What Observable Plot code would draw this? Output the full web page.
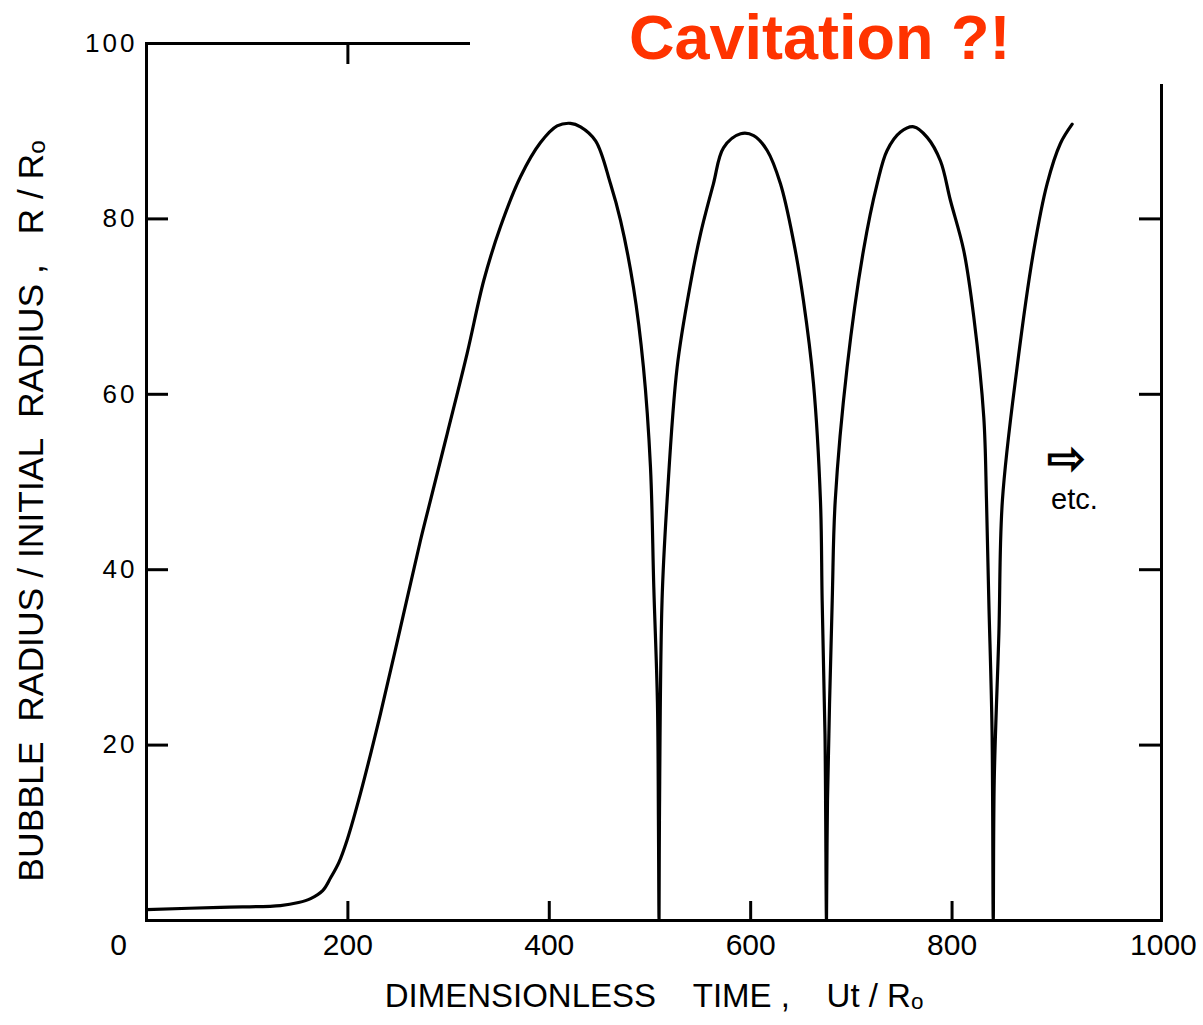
<!DOCTYPE html>
<html>
<head>
<meta charset="utf-8">
<script src="https://cdn.jsdelivr.net/npm/d3@7"></script>
<script src="https://cdn.jsdelivr.net/npm/@observablehq/plot@0.6"></script>
<style>
  html, body { margin: 0; padding: 0; background: #fff; }
  #wrap { position: relative; width: 1203px; height: 1025px; overflow: hidden; }
  #titlebox { position: absolute; left: 470px; top: 0; width: 733px; height: 84px; background: #fff; }
  #title { position: absolute; left: 159px; top: 6px; margin: 0; font-family: "Liberation Sans", Arial, sans-serif;
           font-weight: bold; font-size: 63px; line-height: 63px; color: #ff3300; white-space: nowrap; }
  g[aria-label="y-axis tick label"] text { letter-spacing: 3px; }
</style>
</head>
<body>
<div id="wrap">
  <div id="chart"></div>
  <div id="titlebox"><div id="title">Cavitation ?!</div></div>
</div>
<script>
// Dimensionless time Ut/Ro (x) and bubble radius R/Ro (y)
const time = [
  0, 73.5, 133, 151, 163, 175, 183, 191, 199, 212.5, 232.4, 252.2, 272, 282, 298.6, 318.5, 335, 351.5, 371.4, 391.3,
  407.8, 421, 431, 446, 460.8, 470.8, 483.6, 493.5, 500.5, 503.8, 507.4, 508.4, 509,
  509.4, 512, 517, 527, 540.2, 550.2, 563, 573, 590, 603, 616.4, 629.6, 642.5, 652.4, 662.4, 669.3, 671, 673.8, 675.3,
  676.3, 681, 684, 695.8, 712, 725.6, 735.5, 748.8, 762, 775.3, 788.5, 798.4, 811.6, 821.6, 831.5, 834.2, 836.5, 839.7, 840.9,
  841.9, 846.5, 850, 864.6, 881.1, 894.4, 907.6, 919.3
];
const radius = [
  1.25, 1.5, 1.7, 2.05, 2.5, 3.4, 4.9, 6.6, 9.1, 14.5, 23.6, 33.4, 43.3, 47.9, 55.5, 64.7, 73.0, 79.1, 84.8, 88.7,
  90.6, 90.9, 90.5, 88.9, 84.0, 79.8, 72.2, 63.1, 51.7, 38, 24.9, 11.4, 0,
  11.4, 36.5, 47.9, 63.1, 72.6, 78.3, 84.0, 88.1, 89.7, 89.5, 87.8, 84.0, 77.5, 70.7, 61.2, 47.9, 36.5, 21.3, 0,
  13.7, 36.5, 47.9, 63.1, 76.4, 84.0, 87.8, 89.9, 90.5, 89.3, 86.6, 82.1, 76.4, 68.8, 57.4, 47.9, 36.5, 21.7, 0,
  16, 32.7, 47.9, 63.1, 76.4, 84.0, 88.6, 90.8
];

const xTicks = [200, 400, 600, 800];
const xTickTop = [200];
const yTicks = [20, 40, 60, 80];
const yLabels = [20, 40, 60, 80, 100];

const xTitle = "DIMENSIONLESS\u00a0\u00a0\u00a0\u00a0TIME\u00a0,\u00a0\u00a0\u00a0\u00a0Ut\u00a0/\u00a0R\u2092";
const yTitle = "BUBBLE\u00a0\u00a0RADIUS\u00a0/\u00a0INITIAL\u00a0\u00a0RADIUS\u00a0,\u00a0\u00a0\u00a0R\u00a0/\u00a0R\u2092";

const noteX = [913.6, 921.5];
const noteY = [52.6, 48.0];
const noteText = ["\u21e8", "etc."];
const noteSize = [46, 29];
const noteWeight = ["bold", "normal"];

const points = time.map((t, i) => ({t, r: radius[i]}));
const notes = noteText.map((s, i) => ({x: noteX[i], y: noteY[i], s, size: noteSize[i], w: noteWeight[i]}));

const plot = Plot.plot({
  width: 1203,
  height: 1025,
  marginLeft: 146,
  marginRight: 42,
  marginTop: 43,
  marginBottom: 105,
  style: {fontFamily: "'Liberation Sans', Arial, sans-serif", background: "#fff", color: "#000"},
  x: {domain: [0, 1008]},
  y: {domain: [0, 100]},
  marks: [
    Plot.frame({stroke: "#000", strokeWidth: 3}),
    // inner ticks
    Plot.axisY({anchor: "left", ticks: yTicks, tickSize: -22, text: null, label: null, strokeWidth: 3}),
    Plot.axisY({anchor: "right", ticks: yTicks, tickSize: -23, text: null, label: null, strokeWidth: 3}),
    Plot.axisX({anchor: "bottom", ticks: xTicks, tickSize: -19, text: null, label: null, strokeWidth: 3}),
    Plot.axisX({anchor: "top", ticks: xTickTop, tickSize: -20, text: null, label: null, strokeWidth: 3}),
    // tick labels
    Plot.axisY({anchor: "left", ticks: yLabels, tickSize: 0, tickPadding: 9, fontSize: 26, label: null, tickFormat: "d"}),
    Plot.axisX({anchor: "bottom", ticks: xTicks, tickSize: 0, tickPadding: 13, fontSize: 30, label: null, tickFormat: "d"}),
    Plot.axisX({anchor: "bottom", ticks: [0], tickSize: 0, tickPadding: 13, fontSize: 30, label: null, tickFormat: "d", dx: -28}),
    Plot.axisX({anchor: "bottom", ticks: [1000], tickSize: 0, tickPadding: 13, fontSize: 30, label: null, tickFormat: "d", dx: 10}),
    // axis titles
    Plot.text([xTitle], {frameAnchor: "bottom", dy: 86, fontSize: 33, text: d => d}),
    Plot.text([yTitle], {frameAnchor: "left", textAnchor: "middle", rotate: -90, dx: -115, dy: 29, fontSize: 35.5, text: d => d}),
    // curve
    Plot.line(points, {x: "t", y: "r", stroke: "#000", strokeWidth: 3.2, curve: "catmull-rom", strokeLinejoin: "round"}),
    // annotation
    Plot.text(notes.slice(0, 1), {x: "x", y: "y", text: "s", fontSize: 46, fontWeight: "bold", fill: "#000"}),
    Plot.text(notes.slice(1), {x: "x", y: "y", text: "s", fontSize: 29, fill: "#000"})
  ]
});
document.getElementById("chart").appendChild(plot);
</script>
</body>
</html>
